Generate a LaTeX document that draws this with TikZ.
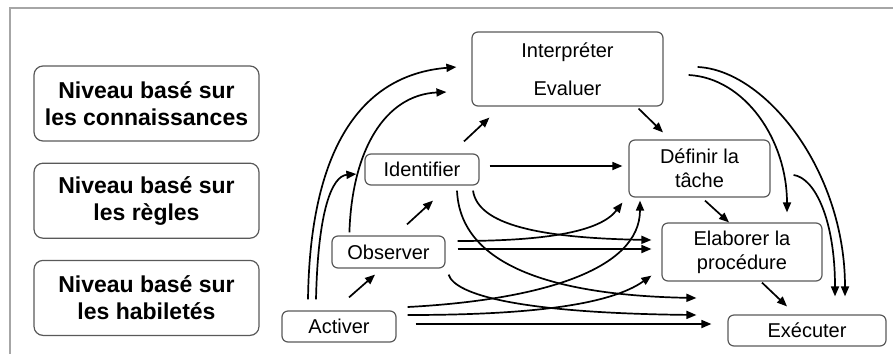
\documentclass[tikz,border=0pt]{standalone}
\usepackage{fontspec}
\setmainfont{Liberation Sans}
\usetikzlibrary{arrows.meta, positioning, calc}

\begin{document}
\begin{tikzpicture}[
    x=1pt, y=-1pt,
    node distance=21pt,
    level/.style={draw=black!65, line width=1.2pt, rounded corners=9pt, minimum width=225pt,
                  minimum height=75pt, align=center, font=\fontsize{23pt}{27pt}\selectfont\bfseries},
    task/.style={draw=black!65, line width=1.2pt, rounded corners=6pt, align=center,
                 inner sep=0pt, font=\fontsize{20pt}{24pt}\selectfont},
    arr/.style={-{Triangle[length=10pt, width=8pt]}, line width=1.7pt}
]
\useasboundingbox (0,0) rectangle (893,354);
\draw[black!35, line width=2pt] (10,354) -- (10,8) -- (893,8);

\node[level] (lvlK) at (146.5,103.5) {Niveau basé sur\\les connaissances};
\node[level, below=of lvlK] (lvlR) {Niveau basé sur\\les règles};
\node[level, below=of lvlR] (lvlS) {Niveau basé sur\\les habiletés};

\node[task, minimum width=114pt, minimum height=31pt] (act) at (339,326.5) {Activer};
\node[task, minimum width=113pt, minimum height=32pt] (obs) at (388.5,252) {Observer};
\node[task, minimum width=114pt, minimum height=31pt] (idf) at (422,169.5) {Identifier};
\node[task, minimum width=191pt, minimum height=74pt] (interp) at (567.5,69) {Interpréter\\[14pt]Evaluer};
\node[task, minimum width=141pt, minimum height=57pt] (def) at (699.5,168.5) {Définir la\\tâche};
\node[task, minimum width=160pt, minimum height=58pt] (elab) at (742,252) {Elaborer la\\procédure};
\node[task, minimum width=158pt, minimum height=31pt] (exe) at (807,330.5) {Exécuter};

\draw[arr] ($(act.north)+(10,-13)$) -- ($(obs.south)+(-13.5,6)$);
\draw[arr] ($(obs.north)+(18.5,-11)$) -- ($(idf.south)+(11,15)$);
\draw[arr] ($(idf.north)+(42,-12)$) -- ($(interp.south west)+(18,11)$);
\draw[arr] ($(interp.south east)+(-25,2)$) -- ($(def.north)+(-36.5,-7)$);
\draw[arr] ($(def.south)+(5.5,3)$) -- ($(elab.north)+(-13,0)$);
\draw[arr] ($(elab.south)+(20,1)$) -- ($(exe.north)+(-20,-8)$);
\draw[arr] ($(idf.east)+(10,-3.5)$) -- ($(def.west)+(-6,-2.5)$);

\draw[arr] ($(act.north)+(-31,-11)$) .. controls (310,150) and (360,75) .. ($(interp.west)+(-15,-2)$);
\draw[arr] ($(act.north)+(-23,-11)$) .. controls (318,210) and (332,176) .. ($(idf.west)+(-8,4.5)$);
\draw[arr] ($(obs.north west)+(18,-3)$) .. controls (352,150) and (385,95) .. ($(interp.west)+(-25,23)$);

\draw[arr] ($(interp.east)+(25,6)$) .. controls (745,78) and (787,140) .. ($(elab.north)+(45,-10)$);
\draw[arr] ($(interp.east)+(34,-2)$) .. controls (765,70) and (845,170) .. ($(exe.north)+(38,-18)$);
\draw[arr] ($(def.east)+(23,6.5)$) .. controls (815,178) and (835,220) .. ($(exe.north)+(28,-18)$);

\draw[arr] ($(obs.east)+(12,-11)$) .. controls (545,241) and (600,232) .. ($(def.south west)+(-6,5)$);
\draw[arr] ($(obs.east)+(12,-3)$) -- ($(elab.west)+(-10,-3)$);
\draw[arr] ($(obs.south east)+(3,6)$) .. controls (455,295) and (520,313) .. ($(exe.west)+(-31,-15.5)$);
\draw[arr] ($(idf.south)+(51,5)$) .. controls (478,225) and (540,238) .. ($(elab.west)+(-10,-12)$);
\draw[arr] ($(idf.south)+(35,5)$) .. controls (460,260) and (540,295) .. ($(exe.west)+(-31,-32.5)$);

\draw[arr] ($(act.east)+(11,-19.5)$) .. controls (540,300) and (640,270) .. ($(def.south)+(-59.5,3)$);
\draw[arr] ($(act.east)+(11,-11.5)$) .. controls (530,315) and (610,305) .. ($(elab.south west)+(-10,-6)$);
\draw[arr] ($(act.east)+(19,-2.5)$) -- ($(exe.west)+(-16,-6.5)$);
\end{tikzpicture}
\end{document}
